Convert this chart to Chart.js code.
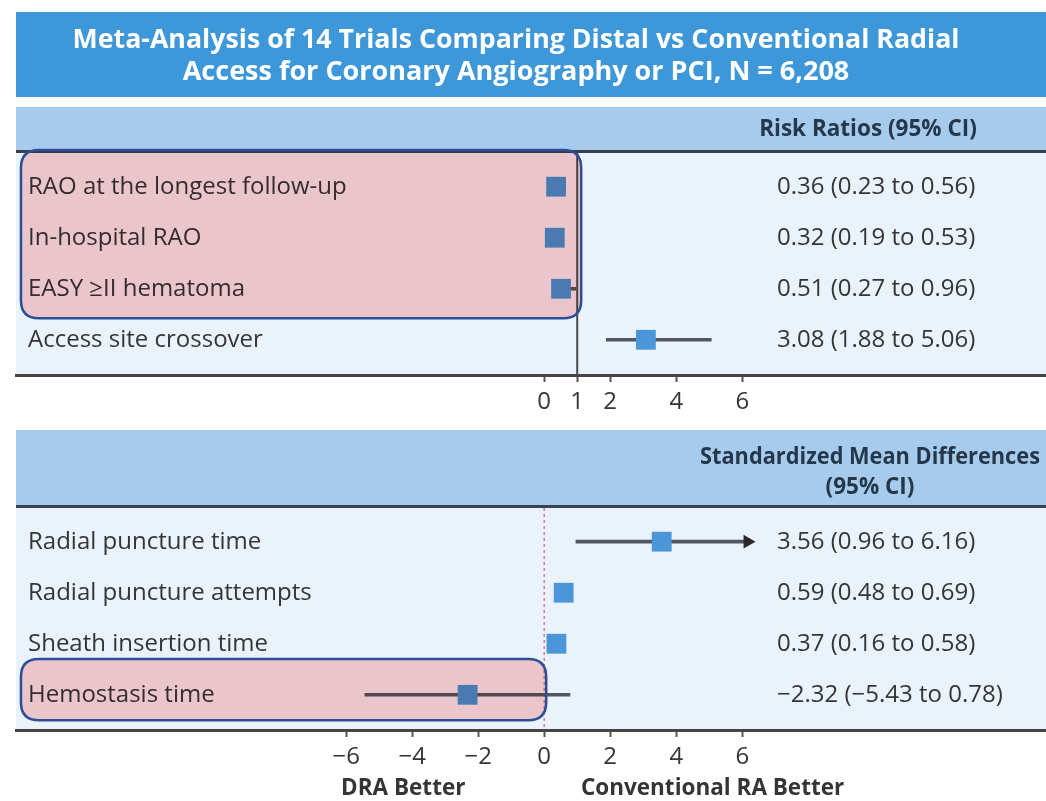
<!DOCTYPE html>
<html>
<head>
<meta charset="utf-8">
<script src="https://cdn.jsdelivr.net/npm/chart.js@4.4.1/dist/chart.umd.min.js"></script>
<style>
  body { margin: 0; background: #fff; }
  .wrap { position: relative; width: 1046px; height: 801px; }
  canvas { position: absolute; left: 0; }
</style>
</head>
<body>
<div class="wrap">
  <canvas id="rrChart" width="1046" height="420" style="top:0"></canvas>
  <canvas id="smdChart" width="1046" height="381" style="top:420px"></canvas>
</div>
<script>
// ---- data ----
const titleLines = ['Meta-Analysis of 14 Trials Comparing Distal vs Conventional Radial',
                    'Access for Coronary Angiography or PCI, N = 6,208'];

const rrLabels = ['RAO at the longest follow-up', 'In-hospital RAO', 'EASY \u2265II hematoma', 'Access site crossover'];
const rrEst  = [0.36, 0.32, 0.51, 3.08];
const rrLow  = [0.23, 0.19, 0.27, 1.88];
const rrHigh = [0.56, 0.53, 0.96, 5.06];
const rrTicks = [0, 1, 2, 4, 6];
const rrHeader = ['Risk Ratios (95% CI)'];

const smdLabels = ['Radial puncture time', 'Radial puncture attempts', 'Sheath insertion time', 'Hemostasis time'];
const smdEst  = [3.56, 0.59, 0.37, -2.32];
const smdLow  = [0.96, 0.48, 0.16, -5.43];
const smdHigh = [6.16, 0.69, 0.58, 0.78];
const smdTicks = [-6, -4, -2, 0, 2, 4, 6];
const smdHeader = ['Standardized Mean Differences', '(95% CI)'];
const smdFooter = ['DRA Better', 'Conventional RA Better'];

const FONT = '"Open Sans", "DejaVu Sans", sans-serif';
const TEXT = '#353535';

function fmt(v) { return v.toFixed(2).replace('-', '\u2212'); }

function roundBox(ctx, x, y, w, h, r) {
  ctx.beginPath();
  ctx.moveTo(x + r, y);
  ctx.lineTo(x + w - r, y);
  ctx.quadraticCurveTo(x + w, y, x + w, y + r);
  ctx.lineTo(x + w, y + h - r);
  ctx.quadraticCurveTo(x + w, y + h, x + w - r, y + h);
  ctx.lineTo(x + r, y + h);
  ctx.quadraticCurveTo(x, y + h, x, y + h - r);
  ctx.lineTo(x, y + r);
  ctx.quadraticCurveTo(x, y, x + r, y);
  ctx.closePath();
}

function panelPlugin(p) {
  return {
    id: 'panel',
    beforeDraw(chart) {
      const { ctx, chartArea: a } = chart;
      const w = a.right - a.left;
      ctx.save();
      if (p.title) {
        ctx.fillStyle = '#3d97d8';
        ctx.fillRect(a.left, 12, w, 85);
        ctx.fillStyle = '#fff';
        ctx.font = 'bold 27px ' + FONT;
        ctx.textAlign = 'center';
        ctx.textBaseline = 'middle';
        ctx.fillText(p.title[0], 516, 40, 887);
        ctx.fillText(p.title[1], 516, 72, 683);
      }
      ctx.fillStyle = '#a7cbec';
      ctx.fillRect(a.left, p.headTop, w, a.top - p.headTop);
      ctx.fillStyle = '#eaf2fb';
      ctx.fillRect(a.left, a.top, w, a.bottom - a.top);
      ctx.fillStyle = '#38434f';
      ctx.fillRect(a.left, a.top - 3, w, 3);
      ctx.fillStyle = '#25384b';
      ctx.font = 'bold 22.5px ' + FONT;
      ctx.textAlign = 'center';
      ctx.textBaseline = 'middle';
      p.header.forEach((t, k) => ctx.fillText(t, p.headX, p.headY + k * 30, 340));
      ctx.restore();
    },
    beforeDatasetsDraw(chart) {
      const { ctx, chartArea: a, scales: { x, y } } = chart;
      ctx.save();
      const rx = x.getPixelForValue(p.refValue);
      ctx.strokeStyle = p.refColor;
      ctx.lineWidth = p.refWidth;
      ctx.setLineDash(p.refDash);
      ctx.beginPath();
      ctx.moveTo(rx, a.top);
      ctx.lineTo(rx, a.bottom);
      ctx.stroke();
      ctx.setLineDash([]);
      ctx.fillStyle = TEXT;
      ctx.font = '24px ' + FONT;
      ctx.textAlign = 'left';
      ctx.textBaseline = 'middle';
      p.labels.forEach((t, i) => {
        const py = y.getPixelForValue(i + 1);
        ctx.fillText(t, 28, py);
        ctx.fillText(fmt(p.est[i]) + ' (' + fmt(p.low[i]) + ' to ' + fmt(p.high[i]) + ')', 777, py);
      });
      ctx.restore();
    },
    afterDatasetsDraw(chart) {
      const { ctx, scales: { x, y } } = chart;
      const b = p.box;
      const x0 = x.getPixelForValue(b.x0), x1 = x.getPixelForValue(b.x1);
      const y0 = y.getPixelForValue(b.y0), y1 = y.getPixelForValue(b.y1);
      ctx.save();
      roundBox(ctx, x0, y0, x1 - x0, y1 - y0, 18);
      ctx.globalCompositeOperation = 'multiply';
      ctx.fillStyle = 'rgb(255,209,208)';
      ctx.fill();
      ctx.globalCompositeOperation = 'source-over';
      ctx.strokeStyle = '#2c4e96';
      ctx.lineWidth = 2.5;
      ctx.stroke();
      ctx.restore();
    },
    afterDraw(chart) {
      if (!p.footer) return;
      const { ctx, scales: { x } } = chart;
      ctx.save();
      ctx.fillStyle = TEXT;
      ctx.font = 'bold 22.5px ' + FONT;
      ctx.textAlign = 'center';
      ctx.textBaseline = 'middle';
      ctx.fillText(p.footer[0], x.getPixelForValue(-4.27), chart.height - 12);
      ctx.fillText(p.footer[1], x.getPixelForValue(5.1), chart.height - 12);
      ctx.restore();
    }
  };
}

function makeForest(id, p) {
  const ctx = document.getElementById(id).getContext('2d');
  const rows = p.est.map((v, i) => i + 1);
  const maxTick = p.ticks[p.ticks.length - 1];
  return new Chart(ctx, {
    type: 'scatter',
    data: {
      datasets: [
        {
          label: 'Estimate',
          data: p.est.map((v, i) => ({ x: v, y: rows[i] })),
          pointStyle: 'rect',
          pointRadius: 14,
          backgroundColor: '#4a96d8',
          borderWidth: 0
        },
        {
          label: 'Arrow',
          data: p.high.map((v, i) => ({ x: v, y: rows[i] })).filter(d => d.x > maxTick),
          pointStyle: 'triangle',
          rotation: 90,
          pointRadius: 8,
          backgroundColor: '#2a2a2a',
          borderWidth: 0
        },
        {
          type: 'bar',
          label: '95% CI',
          indexAxis: 'y',
          data: p.low.map((v, i) => ({ x: [v, p.high[i]], y: rows[i] })),
          barThickness: 3,
          backgroundColor: '#50575e'
        }
      ]
    },
    options: {
      responsive: false,
      animation: false,
      events: [],
      layout: { autoPadding: false, padding: { top: p.top, left: 16, right: 0, bottom: 0 } },
      plugins: { legend: { display: false }, tooltip: { enabled: false } },
      scales: {
        x: {
          type: 'linear',
          min: -16,
          max: 15.2,
          afterBuildTicks: s => { s.ticks = p.ticks.map(v => ({ value: v })); },
          afterFit: s => { s.height = p.axisH; },
          grid: { drawOnChartArea: false, drawTicks: true, tickLength: 7, tickWidth: 2, tickColor: '#555' },
          border: { display: true, color: '#454545', width: 3 },
          ticks: {
            autoSkip: false, maxRotation: 0, padding: 6, color: TEXT,
            font: { family: FONT, size: 24 },
            callback: v => String(v).replace('-', '\u2212')
          }
        },
        y: {
          type: 'linear',
          reverse: true,
          offset: false,
          min: 0.34,
          max: 4.69,
          display: false
        }
      }
    },
    plugins: [panelPlugin(p)]
  });
}

makeForest('rrChart', {
  title: titleLines, header: rrHeader, headTop: 107, headX: 868, headY: 130,
  labels: rrLabels, est: rrEst, low: rrLow, high: rrHigh, ticks: rrTicks,
  top: 153, axisH: 45,
  refValue: 1, refColor: '#4a4a4a', refWidth: 2, refDash: [],
  box: { x0: -15.85, x1: 1.12, y0: 0.28, y1: 3.58 }
});

makeForest('smdChart', {
  header: smdHeader, headTop: 10, headX: 870, headY: 38,
  labels: smdLabels, est: smdEst, low: smdLow, high: smdHigh, ticks: smdTicks,
  top: 88, axisH: 71, footer: smdFooter,
  refValue: 0, refColor: '#e07a8a', refWidth: 1.5, refDash: [3, 3],
  box: { x0: -15.85, x1: 0.06, y0: 3.3, y1: 4.5 }
});
</script>
</body>
</html>
